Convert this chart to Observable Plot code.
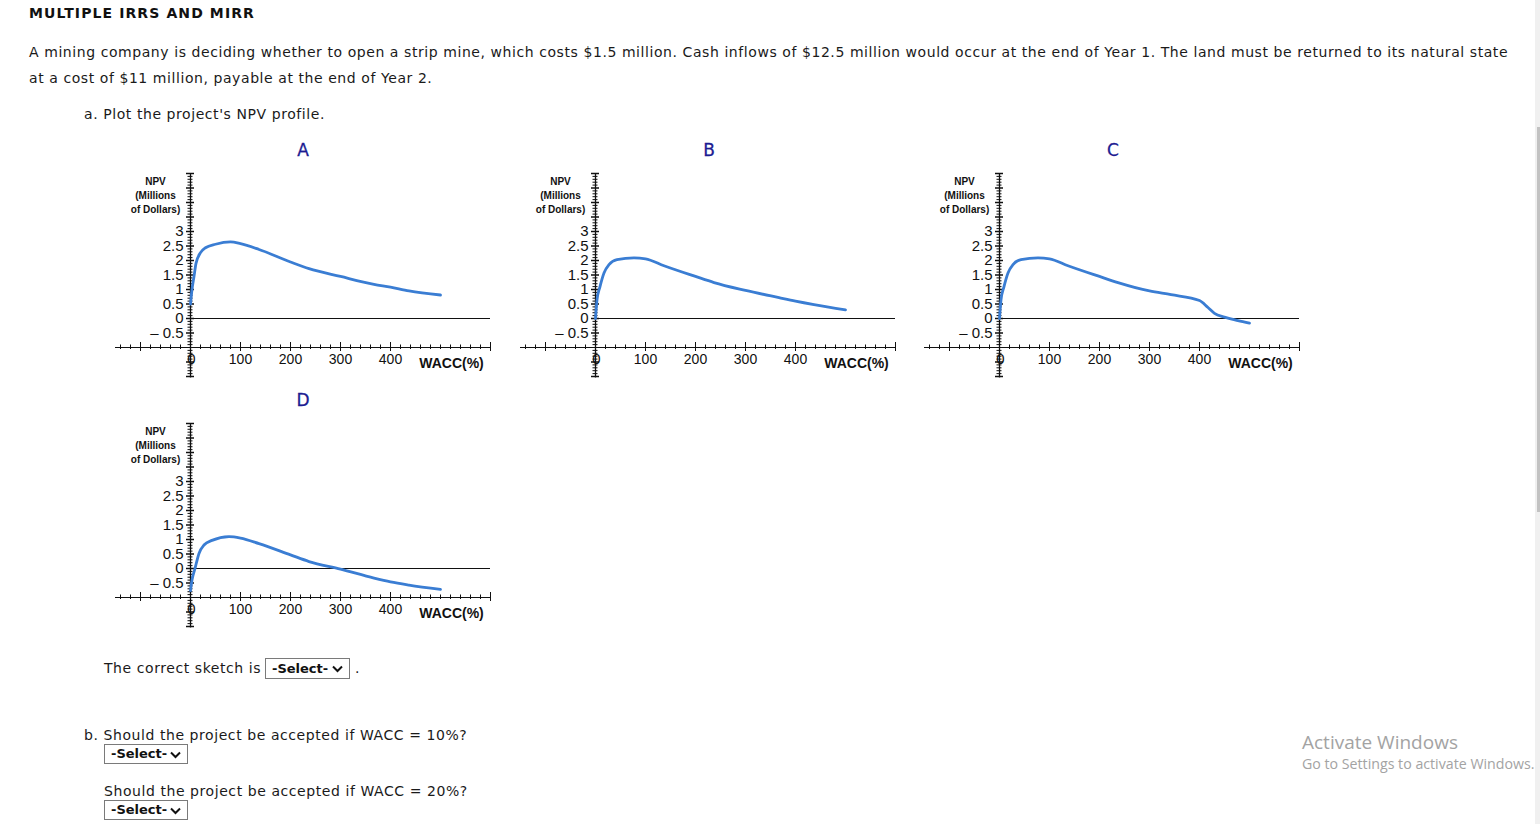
<!DOCTYPE html>
<html>
<head>
<meta charset="utf-8">
<script src="https://cdn.jsdelivr.net/npm/d3@7"></script>
<script src="https://cdn.jsdelivr.net/npm/@observablehq/plot@0.6"></script>
<style>
  html, body { margin: 0; padding: 0; background: #fff; width: 1540px; height: 824px; overflow: hidden; }
  body { font-family: "DejaVu Sans", Verdana, sans-serif; font-size: 14px; color: #1a1a1a; position: relative; }
  .abs { position: absolute; white-space: nowrap; line-height: 16px; letter-spacing: 0.57px; }
  .ctitle { position: absolute; font-size: 17px; line-height: 18px; color: #1c1c92; width: 40px; text-align: center; -webkit-text-stroke: 0.3px #1c1c92; }
  .chart { position: absolute; width: 400px; height: 230px; }
  .sel { position: absolute; box-sizing: border-box; border: 1px solid #7a7a7a; background: #fff; height: 21px;
         font-weight: bold; font-size: 13px; line-height: 19px; padding-left: 6px; color: #111; }
  .sel svg { position: absolute; right: 6px; top: 6px; }
  .win1 { position: absolute; font-family: "Open Sans", "Noto Sans", sans-serif; color: #a3a3a3; font-size: 19px; line-height: 22px; white-space: nowrap; }
  .win2 { position: absolute; font-family: "Open Sans", "Noto Sans", sans-serif; color: #a3a3a3; font-size: 14.2px; line-height: 18px; white-space: nowrap; }
</style>
</head>
<body>
<div class="abs" style="left:29px; top:5px; font-weight:bold; color:#111; letter-spacing:1.1px;">MULTIPLE IRRS AND MIRR</div>
<div class="abs" style="left:29px; top:39px; line-height:26px;">A mining company is deciding whether to open a strip mine, which costs $1.5 million. Cash inflows of $12.5 million would occur at the end of Year 1. The land must be returned to its natural state<br>at a cost of $11 million, payable at the end of Year 2.</div>
<div class="abs" style="left:84px; top:106px;">a. Plot the project's NPV profile.</div>

<div class="ctitle" style="left:283px; top:141px;">A</div>
<div class="ctitle" style="left:689px; top:141px;">B</div>
<div class="ctitle" style="left:1093px; top:141px;">C</div>
<div class="ctitle" style="left:283px; top:391px;">D</div>

<div class="chart" id="chartA" style="left:110px; top:160px;"></div>
<div class="chart" id="chartB" style="left:515px; top:160px;"></div>
<div class="chart" id="chartC" style="left:919px; top:160px;"></div>
<div class="chart" id="chartD" style="left:110px; top:410px;"></div>

<div class="abs" style="left:104px; top:660px;">The correct sketch is</div>
<div class="sel" style="left:265px; top:658px; width:85px;">-Select-<svg width="11" height="8" viewBox="0 0 11 8"><path d="M1 1.5 L5.5 6 L10 1.5" fill="none" stroke="#111" stroke-width="2"/></svg></div>
<div class="abs" style="left:355px; top:660px;">.</div>

<div class="abs" style="left:84px; top:727px;">b. Should the project be accepted if WACC = 10%?</div>
<div class="sel" style="left:104px; top:744px; width:84px; height:20px; line-height:18px;">-Select-<svg width="11" height="8" viewBox="0 0 11 8"><path d="M1 1.5 L5.5 6 L10 1.5" fill="none" stroke="#111" stroke-width="2"/></svg></div>

<div class="abs" style="left:104px; top:783px;">Should the project be accepted if WACC = 20%?</div>
<div class="sel" style="left:104px; top:800px; width:84px; height:20px; line-height:18px;">-Select-<svg width="11" height="8" viewBox="0 0 11 8"><path d="M1 1.5 L5.5 6 L10 1.5" fill="none" stroke="#111" stroke-width="2"/></svg></div>

<div class="win1" style="left:1302px; top:731px;">Activate Windows</div>
<div class="win2" style="left:1302px; top:755px;">Go to Settings to activate Windows.</div>

<div style="position:absolute; left:1535px; top:0; width:5px; height:824px; background:#f0f0f0;"></div>
<div style="position:absolute; left:1537px; top:127px; width:3px; height:385px; background:#c2c2c2;"></div>

<script>
// ---- Data (WACC in %, NPV in $ millions) ----
const waccA = [0, 3, 7, 11, 20, 30, 50, 80, 100, 137, 200, 237, 300, 367, 400, 437, 500];
const npvA  = [0.5, 1.0, 1.45, 1.9, 2.27, 2.44, 2.56, 2.64, 2.58, 2.38, 1.95, 1.72, 1.45, 1.18, 1.08, 0.95, 0.81];

const waccB = [0, 3, 9, 17, 27, 43, 77, 100, 137, 200, 237, 300, 367, 400, 437, 500];
const npvB  = [0, 0.64, 1.1, 1.57, 1.86, 2.03, 2.09, 2.06, 1.82, 1.45, 1.24, 0.97, 0.72, 0.6, 0.48, 0.3];

const waccC = [0, 3, 9, 17, 27, 43, 77, 100, 137, 200, 237, 300, 343, 400, 417, 430, 450, 477, 500];
const npvC  = [0, 0.64, 1.1, 1.57, 1.86, 2.03, 2.09, 2.06, 1.82, 1.45, 1.24, 0.95, 0.82, 0.62, 0.38, 0.18, 0.05, -0.07, -0.16];

const waccD = [0, 3, 9, 17, 27, 43, 77, 100, 137, 200, 237, 300, 367, 400, 437, 500];
const npvD  = [-0.76, -0.4, 0, 0.52, 0.81, 0.97, 1.1, 1.05, 0.86, 0.47, 0.24, -0.02, -0.33, -0.46, -0.57, -0.72];

const yTickValues = [3, 2.5, 2, 1.5, 1, 0.5, 0, -0.5];
const yTickLabels = ["3", "2.5", "2", "1.5", "1", "0.5", "0", "\u2013 0.5"];
const xTickValues = [100, 200, 300, 400];
const xTickLabels = ["100", "200", "300", "400"];
const xLabel = "WACC(%)";
const yLabel = "NPV\n(Millions\nof Dollars)";

const xDomain = [-150, 600];
const yDomain = [-2, 5];
const xAxisAt = -1;

// axis tick positions
const xMajor = [-100, 100, 200, 300, 400, 600];
const xMinor = d3.range(-140, 600, 20).filter(v => !xMajor.includes(v) && v !== 0);
const yMajor = d3.range(-2, 5.001, 0.5).map(v => +v.toFixed(2)).filter(v => v !== xAxisAt);
const yMinor = d3.range(-2, 5.001, 0.1).map(v => +v.toFixed(2)).filter(v => !yMajor.includes(v) && Math.abs(v - xAxisAt) > 1e-9);

const ppuX = 0.5;   // px per WACC unit
const ppuY = 29;    // px per NPV unit

function chart(wacc, npv) {
  const data = wacc.map((w, i) => ({wacc: w, npv: npv[i]}));
  const yTicks = yTickValues.map((v, i) => ({v, t: yTickLabels[i]}));
  const xTicks = xTickValues.map((v, i) => ({v, t: xTickLabels[i]}));
  return Plot.plot({
    width: 400, height: 230,
    marginLeft: 5, marginRight: 20, marginTop: 13, marginBottom: 14,
    x: {domain: xDomain, axis: null},
    y: {domain: yDomain, axis: null},
    style: {fontFamily: "'Liberation Sans', Arial, sans-serif", fontSize: "13px", background: "transparent", overflow: "visible", color: "#111"},
    marks: [
      // zero line
      Plot.ruleY([0], {x1: 0, x2: 600, stroke: "#111", strokeWidth: 1.2}),
      // x axis
      Plot.ruleY([xAxisAt], {x1: -150, x2: 600, stroke: "#111", strokeWidth: 1}),
      Plot.ruleX(xMinor, {y1: xAxisAt - 2 / ppuY, y2: xAxisAt + 2.5 / ppuY, stroke: "#111", strokeWidth: 1}),
      Plot.ruleX(xMajor, {y1: xAxisAt - 4 / ppuY, y2: xAxisAt + 5 / ppuY, stroke: "#111", strokeWidth: 1}),
      // y axis
      Plot.ruleX([0], {y1: -2.05, y2: 5, stroke: "#111", strokeWidth: 1.3}),
      Plot.ruleY(yMinor, {x1: -2.5 / ppuX, x2: 2.5 / ppuX, stroke: "#111", strokeWidth: 1}),
      Plot.ruleY(yMajor, {x1: -4 / ppuX, x2: 4 / ppuX, stroke: "#111", strokeWidth: 1.5}),
      // labels
      Plot.text(yTicks, {x: 0, y: "v", text: "t", textAnchor: "end", dx: -7, fontSize: 15}),
      Plot.text(xTicks, {x: "v", y: xAxisAt, text: "t", dy: 12, fontSize: 14, letterSpacing: "-0.3px"}),
      Plot.text(["0"], {x: 0, y: xAxisAt, text: d => d, dy: 12, dx: 1, fontSize: 15}),
      Plot.text([xLabel], {x: 522, y: xAxisAt, text: d => d, dy: 16, fontSize: 14, fontWeight: "bold", letterSpacing: "0.2px"}),
      Plot.text([yLabel], {x: -70, y: 4.28, text: d => d, fontSize: 10, fontWeight: "bold", lineHeight: 1.4, letterSpacing: "-0.4px"}),
      // NPV profile
      Plot.line(data, {x: "wacc", y: "npv", stroke: "#3a7dd3", strokeWidth: 2.8, curve: "monotone-x"})
    ]
  });
}

document.getElementById("chartA").append(chart(waccA, npvA));
document.getElementById("chartB").append(chart(waccB, npvB));
document.getElementById("chartC").append(chart(waccC, npvC));
document.getElementById("chartD").append(chart(waccD, npvD));
</script>
</body>
</html>
